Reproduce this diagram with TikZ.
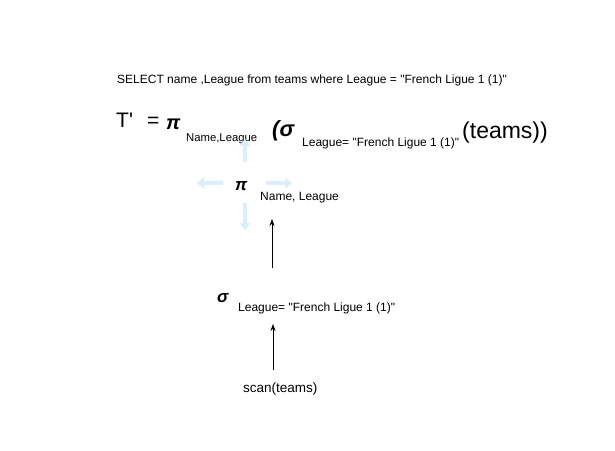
\documentclass[tikz,border=0pt]{standalone}
\usepackage{fontspec}
\setmainfont{Liberation Sans}[Ligatures=TeXOff]
\usetikzlibrary{arrows.meta}
\definecolor{hoverblue}{RGB}{218,238,253}
\begin{document}
\begin{tikzpicture}[x=1pt,y=-1pt]
		\tikzstyle{txt}=[anchor=base west,inner sep=0,font=\fontsize{12}{14}\selectfont]
		\tikzstyle{big}=[anchor=base west,inner sep=0,font=\fontsize{21}{24}\selectfont]
		\tikzstyle{op}=[anchor=base west,inner sep=0,font=\fontsize{20}{24}\selectfont\bfseries\itshape]
		\tikzstyle{opsmall}=[anchor=base west,inner sep=0,font=\fontsize{17}{20}\selectfont\bfseries\itshape]
		\tikzstyle{sub}=[anchor=base west,inner sep=0,font=\fontsize{11.3}{13}\selectfont]
		\tikzstyle{edge}=[-{Stealth[length=7pt,width=5pt]},semithick]
		\tikzstyle{hover}=[-{Triangle[length=7pt,width=11pt]},line width=4pt,hoverblue]
		
		\useasboundingbox (0,0) rectangle (615,450);
		
		% query
		\node [txt] (sql) at (117,83) {SELECT name ,League from teams where League = "French Ligue 1 (1)"};
		
		% algebra expression
		\node [big] (tp) at (116,127) {T'};
		\node [big] (eq) at (147,127) {=};
		\node [op]  (pi0) at (166,129) {π};
		\node [sub] (pisub0) at (186,141) {Name,League};
		\node [op,font=\fontsize{22}{26}\selectfont\bfseries\itshape] (sig0) at (272,136) {(σ};
		\node [txt] (sigsub0) at (302,146) {League= "French Ligue 1 (1)"};
		\node [big,font=\fontsize{23}{26}\selectfont] (teams) at (462,138) {(teams))};
		
		% hover arrows round the projection
		\draw[hover] (245,162) -- (245,139);
		\draw[hover] (223,183) -- (197,183);
		\draw[hover] (266,183) -- (292,183);
		\draw[hover] (245,203) -- (245,230);
		
		% query tree
		\node [opsmall] (pi) at (235,190) {π};
		\node [txt] (pisub) at (260,200) {Name, League};
		\node [opsmall] (sig) at (217,302) {σ};
		\node [txt] (sigsub) at (238,311) {League= "French Ligue 1 (1)"};
		\node [txt,font=\fontsize{13.5}{16}\selectfont] (scan) at (243,392) {scan(teams)};
		
		\coordinate (s0) at (273,370);
		\coordinate (s1) at (273,324);
		\coordinate (p0) at (272,268);
		\coordinate (p1) at (272,219);
		
		\draw[edge] (s0) -- (s1);
		\draw[edge] (p0) -- (p1);
	\end{tikzpicture}
\end{document}
